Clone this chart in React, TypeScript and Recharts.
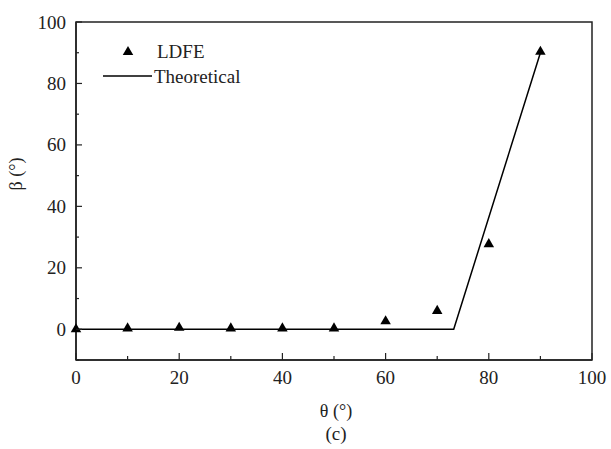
import {
  ComposedChart,
  Line,
  Scatter,
  XAxis,
  YAxis,
  ZAxis,
  ReferenceArea,
  Label,
  Symbols,
} from "recharts";

// LDFE results (incidence angle θ vs. β)
const ldfeTheta = [0, 10, 20, 30, 40, 50, 60, 70, 80, 90];
const ldfeBeta = [0, 0.3, 0.5, 0.3, 0.3, 0.3, 2.6, 6, 27.7, 90.3];

// theoretical curve: flat until the critical angle, then linear up to 90°
const theoryTheta = [0, 73.2, 90];
const theoryBeta = [0, 0, 90];

const xTicks = [0, 10, 20, 30, 40, 50, 60, 70, 80, 90, 100];
const yTicks = [-10, 0, 10, 20, 30, 40, 50, 60, 70, 80, 90, 100];

const ldfe = ldfeTheta.map((x, i) => ({ x, y: ldfeBeta[i] }));
const theory = theoryTheta.map((x, i) => ({ x, y: theoryBeta[i] }));

const FONT = '"Liberation Serif", "Times New Roman", Times, serif';
const INK = "#222";
const txt = { fontFamily: FONT };

function XTick({ x, y, payload }: any) {
  const v = payload.value;
  const major = v % 20 === 0;
  return (
    <g>
      <line x1={x} y1={y} x2={x} y2={y - (major ? 7 : 4)} stroke={INK} strokeWidth={1.2} />
      {major && (
        <text x={x} y={y + 24} textAnchor="middle" style={txt} fontSize={19} fill={INK}>
          {v}
        </text>
      )}
    </g>
  );
}

function YTick({ x, y, payload }: any) {
  const v = payload.value;
  const major = v >= 0 && v % 20 === 0;
  return (
    <g>
      <line x1={x} y1={y} x2={x + (major ? 6 : 3)} y2={y} stroke={INK} strokeWidth={1.2} />
      {major && (
        <text x={x - 10} y={y + 6.5} textAnchor="end" style={txt} fontSize={19} fill={INK}>
          {v}
        </text>
      )}
    </g>
  );
}

function LegendBox() {
  return (
    <svg width={170} height={52} style={{ display: "block" }}>
      <Symbols cx={28} cy={15} type="triangle" size={48} fill="#000" />
      <text x={57} y={21} style={txt} fontSize={19} fill={INK}>
        LDFE
      </text>
      <line x1={3} y1={39} x2={52} y2={39} stroke="#000" strokeWidth={1.5} />
      <text x={54} y={46} style={txt} fontSize={19} fill={INK}>
        Theoretical
      </text>
    </svg>
  );
}

export default function App() {
  return (
    <div style={{ position: "absolute", left: 0, top: 0, width: 611, height: 449, background: "#fff" }}>
      <ComposedChart
        width={611}
        height={449}
        margin={{ top: 22, right: 19, bottom: 59, left: 16 }}
      >
        <XAxis
          type="number"
          dataKey="x"
          domain={[0, 100]}
          ticks={xTicks}
          interval={0}
          tickSize={0}
          tickMargin={0}
          tickLine={false}
          tick={<XTick />}
          axisLine={{ stroke: INK, strokeWidth: 1.5 }}
          height={30}
        >
          <Label
            content={({ viewBox }: any) => (
              <g>
                <text
                  x={viewBox.x + viewBox.width / 2 + 2}
                  y={viewBox.y + 57}
                  textAnchor="middle"
                  style={txt}
                  fontSize={18}
                  fill={INK}
                >
                  θ (°)
                </text>
                <text
                  x={viewBox.x + viewBox.width / 2 + 2}
                  y={viewBox.y + 80}
                  textAnchor="middle"
                  style={txt}
                  fontSize={19}
                  fill={INK}
                >
                  (c)
                </text>
              </g>
            )}
          />
        </XAxis>
        <YAxis
          type="number"
          dataKey="y"
          domain={[-10, 100]}
          ticks={yTicks}
          interval={0}
          tickSize={0}
          tickMargin={0}
          tickLine={false}
          tick={<YTick />}
          axisLine={{ stroke: INK, strokeWidth: 1.5 }}
          width={60}
        >
          <Label
            content={({ viewBox }: any) => (
              <text
                transform={`translate(${viewBox.x + 6}, ${viewBox.y + 152}) rotate(-90)`}
                textAnchor="middle"
                style={txt}
                fontSize={18}
                fill={INK}
              >
                β (°)
              </text>
            )}
          />
        </YAxis>
        <ZAxis range={[48, 48]} />
        <ReferenceArea
          x1={0}
          x2={100}
          y1={-10}
          y2={100}
          fill="none"
          stroke={INK}
          strokeWidth={1.5}
          ifOverflow="visible"
        />
        <Line
          data={theory}
          dataKey="y"
          type="linear"
          stroke="#000"
          strokeWidth={1.5}
          dot={false}
          activeDot={false}
          isAnimationActive={false}
          legendType="none"
        />
        <Scatter
          data={ldfe}
          dataKey="y"
          shape="triangle"
          fill="#000"
          isAnimationActive={false}
        />
      </ComposedChart>
      <div style={{ position: "absolute", left: 100, top: 37 }}>
        <LegendBox />
      </div>
    </div>
  );
}
